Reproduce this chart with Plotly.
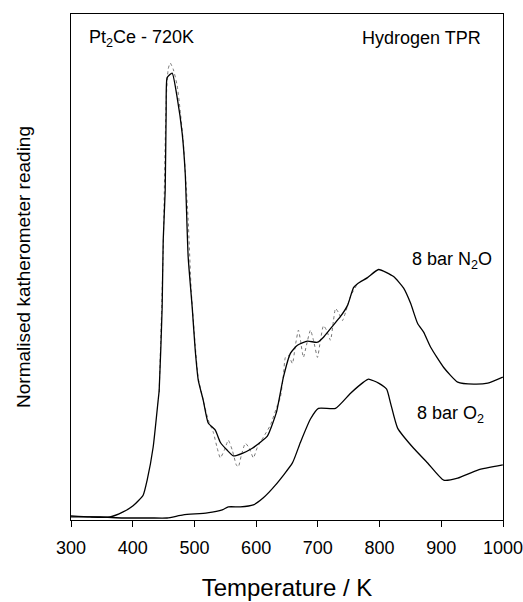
import plotly.graph_objects as go

# N2O solid (smoothed) trace
n2o_T = [300, 330.8, 363.3, 384.4, 400.6, 416.9, 423.4, 433.1, 441.2, 442.9, 447.7, 449.4,
         452.6, 454.2, 455.8, 463.9, 472.1, 480.2, 485.1, 486.7, 489.9, 496.4, 501.3, 506.2,
         514.3, 522.4, 533.8, 541.9, 553.2, 563.0, 577.6, 593.8, 606.8, 618.2, 632.8, 644.2,
         655.5, 666.9, 683.1, 699.4, 709.1, 720.5, 736.7, 748.1, 757.8, 764.3, 780.5, 798.4,
         822.7, 839.0, 850.3, 861.7, 871.4, 882.8, 903.9, 926.6, 952.6, 975.3, 999.7]
n2o_y = [0.6, 0.4, 0.4, 1.4, 2.6, 4.7, 7.7, 14.2, 23.5, 25.5, 41.9, 55.1,
         65.0, 80.8, 87.4, 88.3, 83.4, 76.3, 68.4, 63.0, 51.8, 41.9, 33.4, 27.5,
         23.5, 19.0, 17.6, 15.2, 13.6, 12.5, 13.0, 14.0, 15.2, 16.4, 21.1, 28.1,
         32.8, 34.4, 35.2, 35.0, 36.0, 37.7, 40.1, 42.3, 45.8, 46.6, 47.8, 49.4,
         48.0, 45.7, 42.7, 38.7, 37.0, 34.0, 30.0, 27.1, 26.7, 26.9, 28.1]

# N2O raw (dotted) trace
raw_T = [442.9, 449.4, 454.2, 457.5, 460.7, 465.6, 472.1, 477.0, 481.8, 485.1, 489.9, 494.8,
         501.3, 506.2, 514.3, 522.4, 530.5, 537.0, 541.9, 548.4, 554.9, 561.4, 567.9, 571.1,
         576.0, 582.5, 589.0, 595.5, 602.0, 611.7, 623.1, 634.4, 639.3, 644.2, 647.4, 652.3,
         658.8, 663.6, 668.5, 671.8, 676.6, 681.5, 688.0, 692.9, 699.4, 704.2, 709.1, 714.0,
         720.5, 725.3, 728.6, 733.4, 739.9, 744.8, 752.9, 764.3]
raw_y = [25.1, 53.2, 82.8, 89.1, 90.3, 89.1, 85.8, 80.8, 74.9, 69.0, 59.1, 45.3,
         34.4, 27.9, 23.5, 19.6, 17.2, 14.0, 12.1, 13.6, 15.6, 13.6, 10.7, 10.3,
         12.6, 15.0, 14.0, 12.1, 14.2, 16.2, 18.6, 22.5, 24.1, 28.5, 32.0, 32.4,
         30.8, 34.4, 37.4, 35.4, 32.0, 34.4, 37.4, 35.4, 32.0, 35.4, 38.3, 37.4,
         35.4, 39.3, 41.7, 40.9, 39.3, 40.9, 44.1, 46.6]

# O2 trace
o2_T = [300, 347.1, 384.4, 428.2, 455.8, 481.8, 520.8, 545.1, 554.9, 574.4, 595.5, 611.7,
        631.2, 658.8, 671.8, 688.0, 701.0, 728.6, 753.0, 774.0, 782.1, 798.4, 811.4, 817.9,
        829.2, 855.2, 877.9, 903.9, 926.6, 959.1, 999.7]
o2_y = [0.4, 0.4, 0.2, 0.2, 0.2, 0.8, 1.2, 1.8, 2.4, 2.4, 2.8, 4.2,
        6.7, 11.1, 15.2, 19.8, 21.9, 21.9, 24.9, 27.1, 27.7, 26.9, 25.7, 22.9,
        18.0, 14.0, 11.1, 7.7, 8.1, 9.7, 10.7]

x_ticks = [300, 400, 500, 600, 700, 800, 900, 1000]

FONT = "Liberation Sans, Arial, sans-serif"

fig = go.Figure()
fig.add_trace(go.Scatter(x=raw_T, y=raw_y, mode="lines",
                         line=dict(color="#777777", width=1, dash="dot",
                                   shape="spline", smoothing=0.5),
                         showlegend=False, hoverinfo="skip"))
fig.add_trace(go.Scatter(x=n2o_T, y=n2o_y, mode="lines",
                         line=dict(color="black", width=1.3, shape="spline", smoothing=0.5),
                         showlegend=False))
fig.add_trace(go.Scatter(x=o2_T, y=o2_y, mode="lines",
                         line=dict(color="black", width=1.3, shape="spline", smoothing=0.5),
                         showlegend=False))

fig.update_layout(
    width=523, height=602,
    margin=dict(l=71, r=20, t=14, b=82),
    paper_bgcolor="white", plot_bgcolor="white",
    font=dict(family=FONT, color="black"),
    xaxis=dict(range=[300, 1000], tickvals=x_ticks, ticks="outside", ticklen=6,
               tickcolor="black", showline=True, linecolor="black", linewidth=1.2,
               mirror=True, showgrid=False, zeroline=False, automargin=False,
               ticklabeloverflow="allow", ticklabelstandoff=5,
               tickfont=dict(size=18, family=FONT),
               title=dict(text="Temperature / K", font=dict(size=24, family=FONT), standoff=22)),
    yaxis=dict(range=[-0.2, 100], showticklabels=False, ticks="", showline=True,
               linecolor="black", linewidth=1.2, mirror=True, showgrid=False,
               zeroline=False, automargin=False,
               title=dict(text="Normalised katherometer reading",
                          font=dict(size=19, family=FONT), standoff=34)),
    annotations=[
        dict(x=326, y=95.2, xref="x", yref="y", text="Pt<sub>2</sub>Ce - 720K",
             showarrow=False, xanchor="left", yanchor="middle",
             font=dict(size=18, family=FONT)),
        dict(x=968, y=95.2, xref="x", yref="y", text="Hydrogen TPR",
             showarrow=False, xanchor="right", yanchor="middle",
             font=dict(size=18, family=FONT)),
        dict(x=849, y=51.2, xref="x", yref="y", text="8 bar N<sub>2</sub>O",
             showarrow=False, xanchor="left", yanchor="middle",
             font=dict(size=18, family=FONT)),
        dict(x=857, y=20.6, xref="x", yref="y", text="8 bar O<sub>2</sub>",
             showarrow=False, xanchor="left", yanchor="middle",
             font=dict(size=18, family=FONT)),
    ],
)

fig.write_html("out.html")
